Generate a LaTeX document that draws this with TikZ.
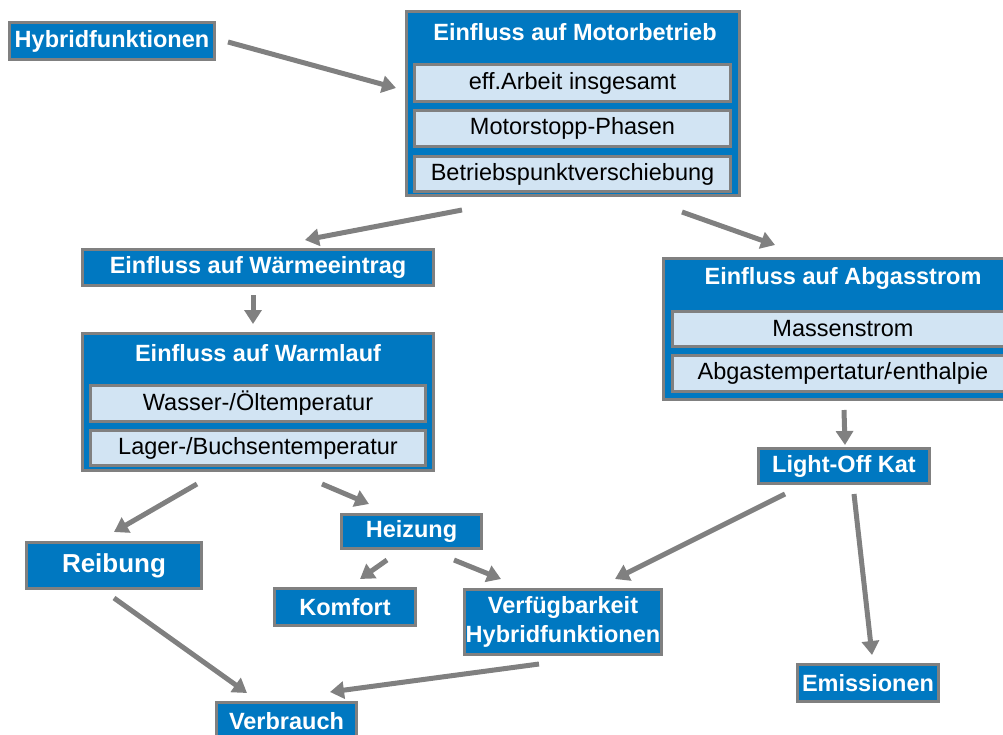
\documentclass[tikz,border=0pt]{standalone}
\usepackage{fontspec}
\setmainfont{Liberation Sans}
\usetikzlibrary{arrows.meta}
\definecolor{boxblue}{RGB}{0,120,193}
\definecolor{subblue}{RGB}{210,228,243}
\definecolor{edgegray}{RGB}{128,128,128}

\begin{document}
\begin{tikzpicture}[x=1pt,y=-1pt,
  bluebox/.style={draw=edgegray, line width=3pt, fill=boxblue, text=white,
    font=\bfseries\fontsize{23.5}{29}\selectfont, inner sep=0pt, align=center},
  subbox/.style={draw=edgegray, line width=3pt, fill=subblue, text=black,
    font=\fontsize{23.5}{27}\selectfont, inner sep=0pt,
    minimum height=36pt},
  headtext/.style={text=white, font=\bfseries\fontsize{23.5}{27}\selectfont, inner sep=0pt},
  arr/.style={draw=edgegray, line width=5pt,
    -{Triangle[length=14pt,width=17pt,fill=edgegray]}}
]
\useasboundingbox (0,0) rectangle (1003,735);
\clip (0,0) rectangle (1003,735);

% --- single boxes ---
\node[bluebox, minimum width=205pt, minimum height=37pt] (hyb) at (112,41) {Hybridfunktionen};

% engine operation group
\node[bluebox, minimum width=333pt, minimum height=184pt] (motor) at (573,103.5) {};
\node[headtext] (motorT) at (575,32) {Einfluss auf Motorbetrieb};
\node[subbox, minimum width=316pt, minimum height=37pt] (m1) at (572.5,83) {eff.Arbeit insgesamt};
\node[subbox, minimum width=316pt] (m2) at (572.5,128.5) {Motorstopp-Phasen};
\node[subbox, minimum width=316pt, minimum height=35pt] (m3) at (572.5,174) {Betriebspunktverschiebung};

% heat input
\node[bluebox, minimum width=351pt, minimum height=36pt] (waerme) at (258,267.5) {Einfluss auf Wärmeeintrag};

% warm-up group
\node[bluebox, minimum width=351pt, minimum height=137pt] (warm) at (258,402) {};
\node[headtext] (warmT) at (258,353) {Einfluss auf Warmlauf};
\node[subbox, minimum width=335pt] (w1) at (258,403.5) {Wasser-/Öltemperatur};
\node[subbox, minimum width=335pt, minimum height=35pt] (w2) at (258,448) {Lager-/Buchsentemperatur};

% exhaust flow group
\node[bluebox, minimum width=359pt, minimum height=141pt] (abgas) at (843,329) {};
\node[headtext] (abgasT) at (843,278) {Einfluss auf Abgasstrom};
\node[subbox, minimum width=341pt, minimum height=35pt] (a1) at (843,329) {Massenstrom};
\node[subbox, minimum width=341pt] (a2) at (843,373.5) {Abgastempertatur/\kern-0.25em-enthalpie};

% lower boxes
\node[bluebox, minimum width=171pt, minimum height=35pt] (light) at (844,466) {Light-Off Kat};
\node[bluebox, minimum width=175pt, minimum height=46pt,
  font=\bfseries\fontsize{26}{30}\selectfont] (reib) at (114,565.5) {Reibung};
\node[bluebox, minimum width=140pt, minimum height=34pt] (heiz) at (411.5,531.5) {Heizung};
\node[bluebox, minimum width=141pt, minimum height=37pt] (komf) at (345,607) {Komfort};
\node[bluebox, minimum width=197pt, minimum height=65pt] (verf) at (563,622)
  {Verfügbarkeit\\Hybridfunktionen};
\node[bluebox, minimum width=141pt, minimum height=37pt] (emis) at (868,683) {Emissionen};
\node[bluebox, minimum width=140pt, minimum height=37pt] (verb) at (286.5,721) {Verbrauch};

% --- connectors ---
\draw[arr] ([shift={(12,1)}]hyb.east) -- ([shift={(-9,-15.5)}]motor.west);
\draw[arr] ([shift={(-111,13)}]motor.south) -- ([shift={(47,-8)}]waerme.north);
\draw[arr] ([shift={(109,15)}]motor.south) -- ([shift={(-68,-12)}]abgas.north);
\draw[arr] ([shift={(-5,8)}]waerme.south) -- ([shift={(-5,-8)}]warm.north);
\draw[arr] ([shift={(1,9)}]abgas.south) -- ([shift={(1,-2)}]light.north);
\draw[arr] ([shift={(-61,12)}]warm.south) -- ([shift={(0,-9)}]reib.north);
\draw[arr] ([shift={(64,12)}]warm.south) -- ([shift={(-42.5,-9)}]heiz.north);
\draw[arr] ([shift={(-24.5,10)}]heiz.south) -- ([shift={(15,-8)}]komf.north);
\draw[arr] ([shift={(42.5,10)}]heiz.south) -- ([shift={(-62,-9)}]verf.north);
\draw[arr] ([shift={(-59,9)}]light.south) -- ([shift={(52,-9)}]verf.north);
\draw[arr] ([shift={(10,9)}]light.south) -- ([shift={(4,-8)}]emis.north);
\draw[arr] ([shift={(0,8)}]reib.south) -- ([shift={(-39.5,-8)}]verb.north);
\draw[arr] ([shift={(-24,8)}]verf.south) -- ([shift={(43.5,-9)}]verb.north);
\end{tikzpicture}
\end{document}
